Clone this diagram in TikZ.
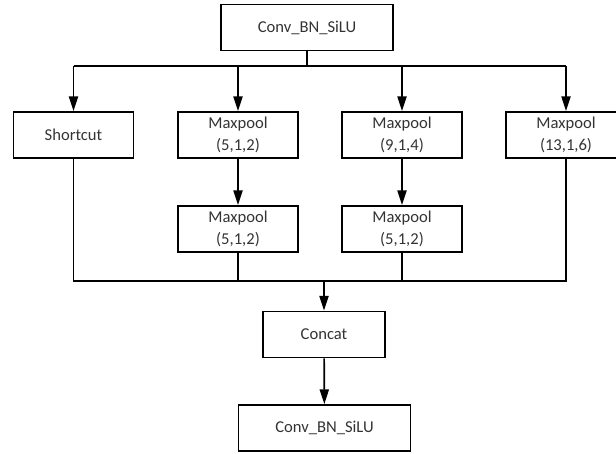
\documentclass[tikz,border=0pt]{standalone}
\usepackage{fontspec}
\setmainfont{Carlito}
\usetikzlibrary{arrows.meta}

\tikzset{
	block/.style={draw, line width=1.3pt, inner sep=0pt, align=center,
		minimum height=1.15cm, text=black!80,
		font=\fontsize{11.8}{15.6}\selectfont},
	wideblock/.style={block, minimum width=4.3cm},
	poolblock/.style={block, minimum width=3cm},
	catblock/.style={block, minimum width=3.05cm},
	wire/.style={line width=1.2pt},
	flow/.style={wire, -{Triangle[length=10.5pt,width=6.5pt]}}
}

\begin{document}
\begin{tikzpicture}[x=0.025cm, y=0.025cm]
		\useasboundingbox (0,0) rectangle (616,453);

		\node[wideblock] (convin) at (307,425.5) {Conv\_BN\_SiLU};

		\node[poolblock] (shortcut) at (73.5,318) {Shortcut};
		\node[poolblock] (poolA)    at (238,318)  {Maxpool\\(5,1,2)};
		\node[poolblock] (poolB)    at (402,318)  {Maxpool\\(9,1,4)};
		\node[poolblock] (poolC)    at (566,318)  {Maxpool\\(13,1,6)};

		\node[poolblock] (poolAA) at (238,224) {Maxpool\\(5,1,2)};
		\node[poolblock] (poolBB) at (402,224) {Maxpool\\(5,1,2)};

		\node[catblock]  (concat)  at (324,118.5) {Concat};
		\node[wideblock] (convout) at (324.5,25)  {Conv\_BN\_SiLU};

		\coordinate (bus)   at (0,387);
		\coordinate (merge) at (0,172);

		% split
		\draw[wire] (convin.south) -- (convin.south |- bus);
		\draw[wire] (shortcut.north |- bus) -- (poolC.north |- bus);
		\foreach \b in {shortcut,poolA,poolB,poolC}
			\draw[flow] (\b.north |- bus) -- (\b.north);

		\draw[flow] (poolA) -- (poolAA);
		\draw[flow] (poolB) -- (poolBB);

		% merge
		\draw[wire] (shortcut.south) -- (shortcut.south |- merge)
			-- (poolC.south |- merge) -- (poolC.south);
		\draw[wire] (poolAA.south) -- (poolAA.south |- merge);
		\draw[wire] (poolBB.south) -- (poolBB.south |- merge);
		\draw[flow] (concat.north |- merge) -- (concat.north);
		\draw[flow] (concat) -- (convout);
	\end{tikzpicture}
\end{document}
